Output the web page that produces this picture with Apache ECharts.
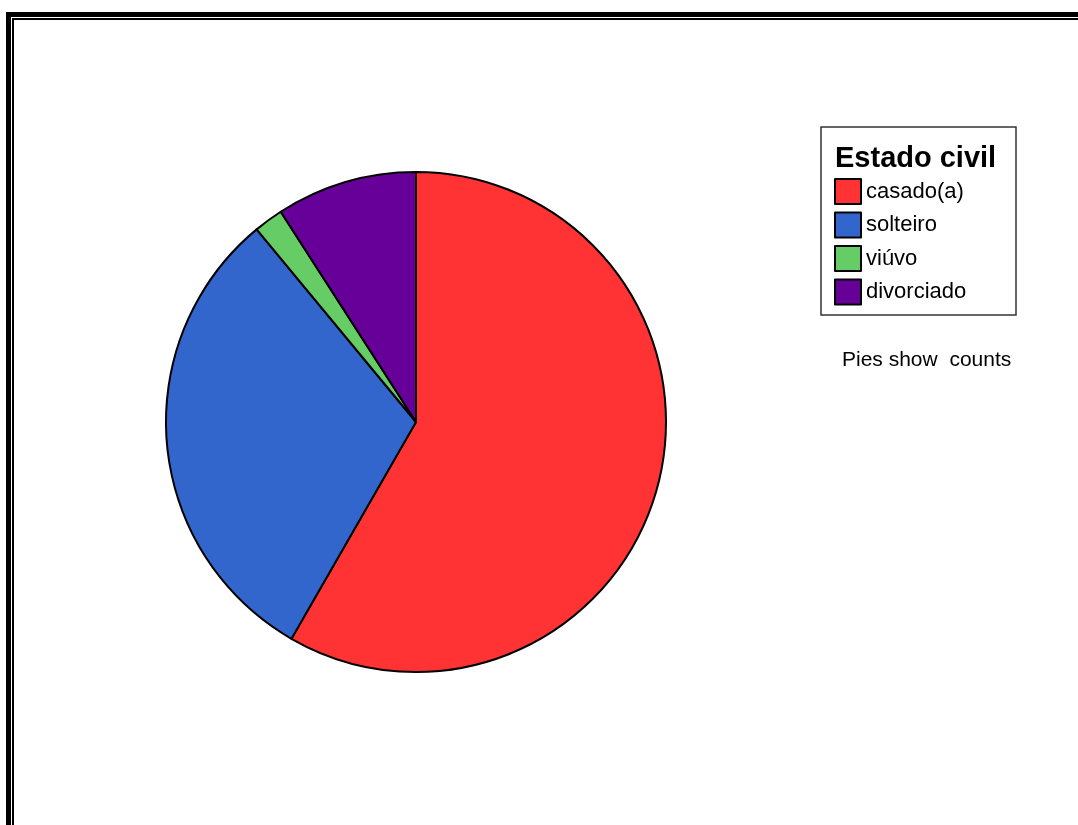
<!DOCTYPE html>
<html>
<head>
<meta charset="utf-8">
<script src="https://cdn.jsdelivr.net/npm/echarts@6/dist/echarts.min.js"></script>
<style>
  html, body { margin: 0; padding: 0; background: #ffffff; }
  #chart { width: 1078px; height: 825px; }
</style>
</head>
<body>
<div id="chart"></div>
<script>
// Marital status counts
const categories = ['casado(a)', 'solteiro', 'viúvo', 'divorciado'];
const counts = [583, 307, 19, 91];
const colors = ['#FF3333', '#3366CC', '#66CC66', '#660099'];
const legendTitle = 'Estado civil';
const footnote = 'Pies show  counts';

const chart = echarts.init(document.getElementById('chart'), null, { renderer: 'canvas' });

const pieData = categories.map((name, i) => ({
  name: name,
  value: counts[i],
  itemStyle: { color: colors[i] }
}));

chart.setOption({
  backgroundColor: '#ffffff',
  animation: false,
  legend: {
    orient: 'vertical',
    left: 834,
    top: 178,
    padding: 0,
    itemWidth: 26,
    itemHeight: 25,
    itemGap: 6.5,
    icon: 'rect',
    selectedMode: false,
    data: categories,
    textStyle: {
      fontFamily: 'Liberation Sans, Arial, sans-serif',
      fontSize: 22,
      color: '#000000',
      padding: [0, 0, 0, 0]
    }
  },
  graphic: [
    // double frame: thick outer line and thin inner line, top and left edges
    { type: 'rect', shape: { x: 6, y: 12, width: 1072, height: 5 }, style: { fill: '#000' }, silent: true },
    { type: 'rect', shape: { x: 6, y: 12, width: 5, height: 813 }, style: { fill: '#000' }, silent: true },
    { type: 'rect', shape: { x: 12, y: 18, width: 1066, height: 2 }, style: { fill: '#000' }, silent: true },
    { type: 'rect', shape: { x: 12, y: 18, width: 2, height: 807 }, style: { fill: '#000' }, silent: true },
    // legend box
    {
      type: 'rect',
      shape: { x: 821, y: 127, width: 195, height: 188 },
      style: { fill: 'none', stroke: '#333333', lineWidth: 1.5 },
      silent: true,
      z: -1
    },
    {
      type: 'text',
      left: 835,
      top: 144,
      style: {
        text: legendTitle,
        fontFamily: 'Liberation Sans, Arial, sans-serif',
        fontWeight: 'bold',
        fontSize: 29,
        fill: '#000000'
      },
      silent: true
    },
    {
      type: 'text',
      left: 842,
      top: 350,
      style: {
        text: footnote,
        fontFamily: 'Liberation Sans, Arial, sans-serif',
        fontSize: 21,
        fill: '#000000'
      },
      silent: true
    }
  ],
  series: [{
    type: 'pie',
    center: [416, 422],
    radius: [0, 250],
    startAngle: 90,
    clockwise: true,
    avoidLabelOverlap: false,
    label: { show: false },
    labelLine: { show: false },
    emphasis: { disabled: true },
    itemStyle: { borderColor: '#000000', borderWidth: 2 },
    data: pieData
  }]
});
</script>
</body>
</html>
